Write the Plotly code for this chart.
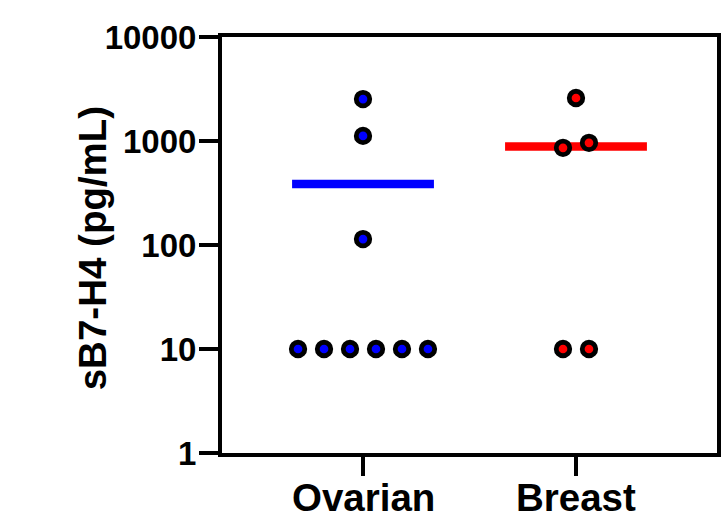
import numpy as np
import plotly.graph_objects as go

categories = ["Ovarian", "Breast"]
ovarian_values = [2530, 1120, 114, 10, 10, 10, 10, 10, 10]
breast_values = [2590, 860, 960, 10, 10]
mean_values = [385, 885]
colors = ["#0000FF", "#FF0000"]
y_tick_vals = [1, 10, 100, 1000, 10000]
y_tick_text = ["1", "10", "100", "1000", "10000"]

series = [ovarian_values, breast_values]

FONT = "Liberation Sans, Arial, sans-serif"
STEP = 0.122      # horizontal spacing between overlapping points (x units)
GROUP = 0.17      # log10 distance under which points collide
HALF = 0.333      # half-width of mean line


def swarm(values, center):
    order = np.argsort(np.log10(values), kind="stable")
    logs = np.log10(np.array(values, dtype=float))
    xs = np.zeros(len(values))
    groups = []
    cur = [order[0]]
    for idx in order[1:]:
        if logs[idx] - logs[cur[-1]] < GROUP:
            cur.append(idx)
        else:
            groups.append(cur)
            cur = [idx]
    groups.append(cur)
    for g in groups:
        n = len(g)
        for k, idx in enumerate(g):
            xs[idx] = center + (k - (n - 1) / 2) * STEP
    return xs


fig = go.Figure()
for i, (vals, col) in enumerate(zip(series, colors)):
    fig.add_trace(go.Scatter(
        x=[i - HALF, i + HALF], y=[mean_values[i]] * 2, mode="lines",
        line=dict(color=col, width=8.5), showlegend=False, hoverinfo="skip"))
    fig.add_trace(go.Scatter(
        x=swarm(vals, i), y=vals, mode="markers",
        marker=dict(size=13.5, color=col, line=dict(color="black", width=4.8)),
        showlegend=False))

annotations = [dict(text="<b>sB7-H4 (pg/mL)</b>", textangle=-90, xref="paper", yref="paper",
                    x=-0.26, y=0.4928, xanchor="center", yanchor="middle", showarrow=False,
                    font=dict(size=38.5, family=FONT))]
for i, c in enumerate(categories):
    annotations.append(dict(text=f"<b>{c}</b>", xref="x", yref="paper", x=i, y=-0.0505,
                            xanchor="center", yanchor="top", showarrow=False,
                            font=dict(size=38.5, family=FONT)))

fig.update_layout(
    width=721, height=511,
    margin=dict(l=222, r=4, t=37, b=58),
    plot_bgcolor="white", paper_bgcolor="white",
    font=dict(family=FONT, color="black"),
    xaxis=dict(range=[-0.662, 1.662], tickvals=[0, 1], showticklabels=False,
               showgrid=False, zeroline=False, showline=True, linecolor="black", linewidth=4,
               mirror=True, ticks="outside", ticklen=19, tickwidth=4, tickcolor="black",
               automargin=False),
    yaxis=dict(type="log", range=[0, 4], tickvals=y_tick_vals,
               ticktext=[f"<b>{t}</b>" for t in y_tick_text],
               showgrid=False, zeroline=False, showline=True, linecolor="black", linewidth=4,
               mirror=True, ticks="outside", ticklen=19, tickwidth=4, tickcolor="black",
               tickfont=dict(size=33, family=FONT), automargin=False, ticklabelstandoff=-4),
    annotations=annotations,
)

fig.write_html("out.html")
